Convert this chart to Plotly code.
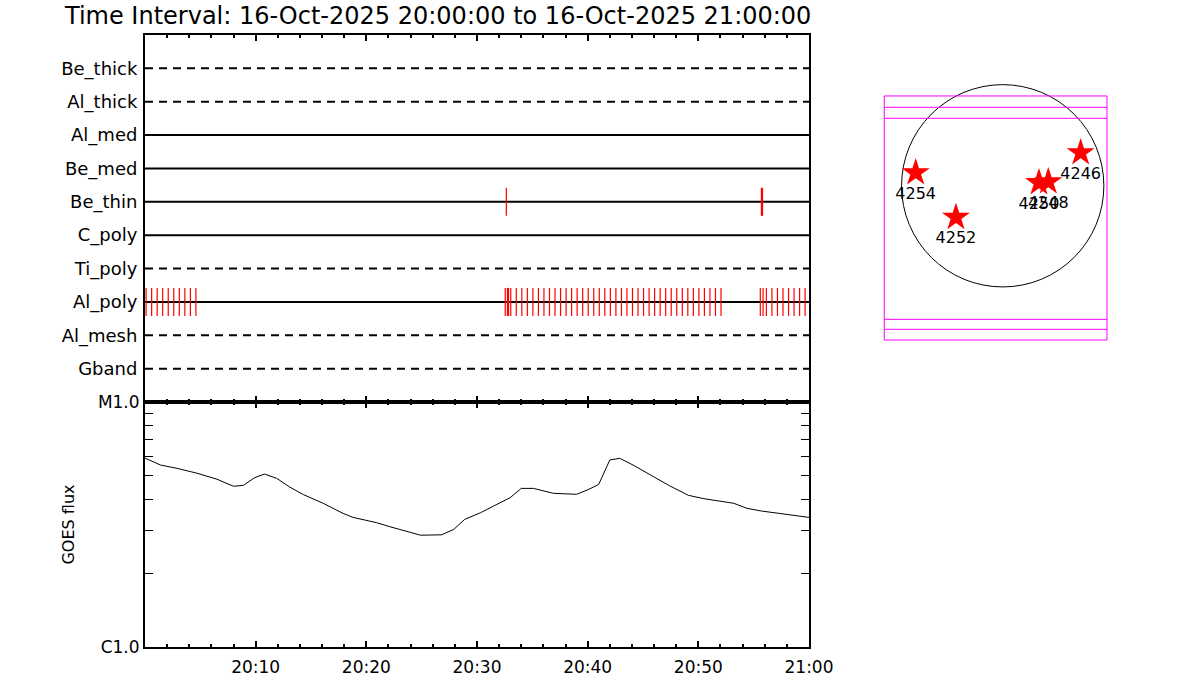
import plotly.graph_objects as go

# ---------------- data ----------------
title_text = "Time Interval: 16-Oct-2025 20:00:00 to 16-Oct-2025 21:00:00"

channels = ["Be_thick", "Al_thick", "Al_med", "Be_med", "Be_thin",
            "C_poly", "Ti_poly", "Al_poly", "Al_mesh", "Gband"]
channel_row = [10, 9, 8, 7, 6, 5, 4, 3, 2, 1]
channel_dashed = [True, True, False, False, False, False, True, False, True, True]

# observation times (minutes after 20:00) per channel
obs_be_thin = [32.65, 55.7, 55.8]
obs_al_poly = [0.1, 0.6, 1.1, 1.6, 2.1, 2.6, 3.1, 3.6, 4.1, 4.6,
               32.55, 32.75, 32.85, 33.05, 33.55, 34.05, 34.55, 35.05, 35.55, 36.05,
               36.55, 37.05, 37.55, 38.05, 38.55, 39.05, 39.55, 40.05, 40.55, 41.05,
               41.55, 42.05, 42.55, 43.05, 43.55, 44.05, 44.55, 45.05, 45.55, 46.05,
               46.55, 47.05, 47.55, 48.05, 48.55, 49.05, 49.55, 50.05, 50.55, 51.05,
               51.55, 52.05,
               55.6, 55.85, 56.15, 56.65, 57.15, 57.65, 58.15, 58.65, 59.15, 59.65]

# GOES flux (W/m^2) vs minutes after 20:00
goes_t = [0.0, 1.4, 2.9, 4.7, 6.5, 8.0, 8.9, 9.9, 10.8, 11.9, 13.1, 14.3, 16.1,
          17.9, 18.8, 20.9, 22.1, 23.7, 24.9, 26.8, 27.9, 28.9, 30.3, 31.8, 33.0,
          34.0, 35.1, 36.9, 39.0, 40.1, 41.0, 42.0, 42.9, 44.1, 45.9, 47.4, 49.1,
          50.5, 53.2, 54.4, 55.7, 60.0]
goes_flux = [5.9e-6, 5.53e-6, 5.36e-6, 5.12e-6, 4.84e-6, 4.53e-6, 4.57e-6, 4.91e-6,
             5.08e-6, 4.88e-6, 4.49e-6, 4.19e-6, 3.86e-6, 3.51e-6, 3.38e-6, 3.22e-6,
             3.10e-6, 2.97e-6, 2.86e-6, 2.87e-6, 3.02e-6, 3.32e-6, 3.53e-6, 3.82e-6,
             4.07e-6, 4.44e-6, 4.44e-6, 4.24e-6, 4.20e-6, 4.40e-6, 4.61e-6, 5.80e-6,
             5.89e-6, 5.53e-6, 4.96e-6, 4.55e-6, 4.16e-6, 4.03e-6, 3.86e-6, 3.68e-6,
             3.59e-6, 3.38e-6]

time_tickvals = [0, 10, 20, 30, 40, 50, 60]
time_ticktext = ["", "20:10", "20:20", "20:30", "20:40", "20:50", "21:00"]

flux_tickvals = [1e-6, 2e-6, 3e-6, 4e-6, 5e-6, 6e-6, 7e-6, 8e-6, 9e-6, 1e-5]
flux_ticktext = ["C1.0", "", "", "", "", "", "", "", "", "M1.0"]

# solar map (arcsec)
sun_radius = 965
ar_names = ["4254", "4252", "4246", "4250", "4248"]
ar_x = [-830, -446, 744, 346, 435]
ar_y = [125, -301, 316, 30, 39]
fov_x = [-1130, 995]
fov_y = [-1471, 857]
fov_lines_y = [749, 644, -1274, -1369]

# ---------------- figure ----------------
W, H = 1200, 700
OFF = 0  # body margin removed via post_script
fig = go.Figure()
FONT = "DejaVu Sans"


def px_x(p):
    return (p - OFF) / W


def px_y(p):
    return 1 - (p - OFF) / H


# channel lines
for name, row, dashed in zip(channels, channel_row, channel_dashed):
    fig.add_trace(go.Scatter(
        x=[0, 60], y=[row, row], mode="lines",
        line=dict(color="black", width=2, dash="8px,6px" if dashed else "solid"),
        xaxis="x", yaxis="y", showlegend=False, hoverinfo="skip"))

# observation ticks
def tick_segments(times, row, half=0.42):
    xs, ys = [], []
    for t in times:
        xs += [t, t, None]
        ys += [row - half, row + half, None]
    return xs, ys

for times, name in [(obs_be_thin, "Be_thin"), (obs_al_poly, "Al_poly")]:
    row = channel_row[channels.index(name)]
    xs, ys = tick_segments(times, row)
    fig.add_trace(go.Scatter(
        x=xs, y=ys, mode="lines", line=dict(color="red", width=1.2),
        xaxis="x", yaxis="y", showlegend=False, hoverinfo="skip"))

# GOES curve
fig.add_trace(go.Scatter(
    x=goes_t, y=goes_flux, mode="lines", line=dict(color="black", width=1),
    xaxis="x2", yaxis="y2", showlegend=False))

# active regions
fig.add_trace(go.Scatter(
    x=ar_x, y=ar_y, mode="markers+text", text=ar_names,
    textposition="bottom center",
    textfont=dict(family=FONT, size=16, color="black"),
    marker=dict(symbol="star", size=21, color="red", line=dict(width=0)),
    xaxis="x3", yaxis="y3", showlegend=False))

xdom = [px_x(145), px_x(809)]
top_dom = [px_y(402), px_y(35)]
bot_dom = [px_y(647), px_y(402)]

common_x = dict(
    range=[0, 60], showgrid=False, zeroline=False, showline=True,
    linecolor="black", linewidth=2, mirror="ticks", automargin=False,
    ticks="inside", ticklen=6, tickwidth=2, tickcolor="black",
    tickmode="array", tickvals=time_tickvals, ticktext=time_ticktext,
    minor=dict(tickmode="linear", tick0=0, dtick=2, ticks="inside",
               ticklen=3, tickwidth=2, tickcolor="black", showgrid=False),
    domain=xdom,
)

fig.update_layout(
    width=W, height=H, margin=dict(l=0, r=0, t=0, b=0, autoexpand=False),
    paper_bgcolor="white", plot_bgcolor="white",
    font=dict(family=FONT, color="black"),
    xaxis=dict(common_x, anchor="y", showticklabels=False),
    yaxis=dict(domain=top_dom, range=[0, 11], showgrid=False, zeroline=False,
               showline=True, linecolor="black", linewidth=2, mirror=True,
               automargin=False,
               tickmode="array", tickvals=channel_row, ticktext=channels,
               ticks="", ticklabelstandoff=2,
               tickfont=dict(family=FONT, size=18, color="black")),
    xaxis2=dict(common_x, anchor="y2", showticklabels=True, ticklabelstandoff=4,
                tickfont=dict(family=FONT, size=17, color="black")),
    yaxis2=dict(domain=bot_dom, type="log", range=[-6, -5], showgrid=False,
                zeroline=False, showline=True, linecolor="black", linewidth=2,
                automargin=False,
                mirror="ticks", ticks="inside", ticklen=8, tickwidth=1,
                tickcolor="black", tickmode="array", tickvals=flux_tickvals,
                ticktext=flux_ticktext, anchor="x2",
                tickfont=dict(family=FONT, size=17, color="black"),
                title=dict(text="GOES flux", standoff=19,
                           font=dict(family=FONT, size=16, color="black"))),
    xaxis3=dict(domain=[px_x(860), px_x(1130)], range=[-1361.4, 1214.4],
                visible=False, anchor="y3"),
    yaxis3=dict(domain=[px_y(360), px_y(60)], range=[-1661.9, 1200.1],
                visible=False, anchor="x3"),
)

# sun disk and field-of-view boxes
fig.add_shape(type="circle", xref="x3", yref="y3",
              x0=-sun_radius, x1=sun_radius, y0=-sun_radius, y1=sun_radius,
              line=dict(color="black", width=1), layer="below")
fig.add_shape(type="rect", xref="x3", yref="y3",
              x0=fov_x[0], x1=fov_x[1], y0=fov_y[0], y1=fov_y[1],
              line=dict(color="magenta", width=1))
for yy in fov_lines_y:
    fig.add_shape(type="line", xref="x3", yref="y3",
                  x0=fov_x[0], x1=fov_x[1], y0=yy, y1=yy,
                  line=dict(color="magenta", width=1))

fig.add_annotation(text=title_text, xref="paper", yref="paper",
                   x=px_x(62), y=px_y(16), xanchor="left", yanchor="middle",
                   showarrow=False,
                   font=dict(family=FONT, size=24, color="black"))

fig.write_html("out.html",
               config={"displayModeBar": False},
               post_script="document.body.style.margin='0';")
